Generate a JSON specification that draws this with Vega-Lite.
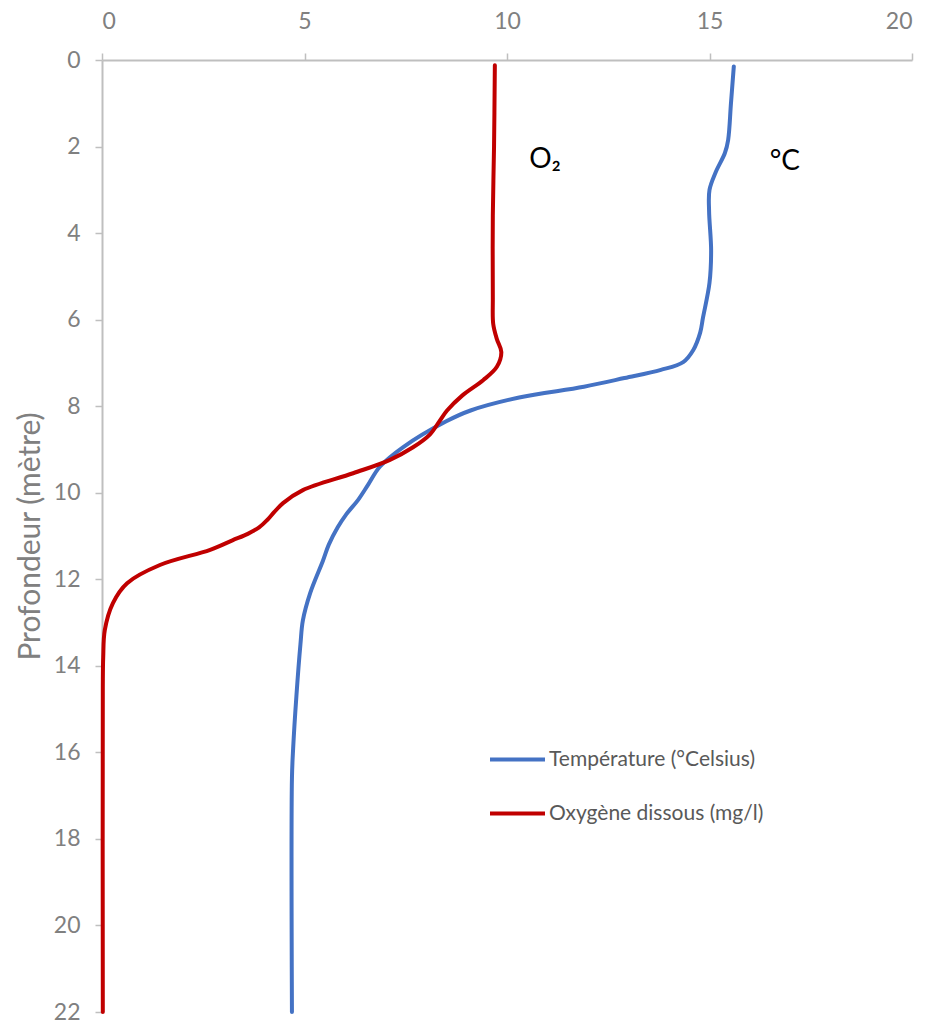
{
  "$schema": "https://vega.github.io/schema/vega-lite/v6.json",
  "width": 810,
  "height": 952,
  "autosize": {"type": "none"},
  "padding": {"left": 102, "top": 60, "right": 20, "bottom": 11},
  "background": "#ffffff",
  "config": {"view": {"stroke": null}, "axis": {"grid": false}},
  "datasets": {
    "profil": [
      {"serie": "Température (°Celsius)", "profondeur": 0.15, "valeur": 15.6},
      {"serie": "Température (°Celsius)", "profondeur": 1.0, "valeur": 15.53},
      {"serie": "Température (°Celsius)", "profondeur": 1.85, "valeur": 15.46},
      {"serie": "Température (°Celsius)", "profondeur": 2.15, "valeur": 15.38},
      {"serie": "Température (°Celsius)", "profondeur": 2.6, "valeur": 15.15},
      {"serie": "Température (°Celsius)", "profondeur": 3.0, "valeur": 15.0},
      {"serie": "Température (°Celsius)", "profondeur": 3.5, "valeur": 14.99},
      {"serie": "Température (°Celsius)", "profondeur": 4.4, "valeur": 15.04},
      {"serie": "Température (°Celsius)", "profondeur": 5.15, "valeur": 15.0},
      {"serie": "Température (°Celsius)", "profondeur": 5.95, "valeur": 14.84},
      {"serie": "Température (°Celsius)", "profondeur": 6.3, "valeur": 14.77},
      {"serie": "Température (°Celsius)", "profondeur": 6.7, "valeur": 14.6},
      {"serie": "Température (°Celsius)", "profondeur": 6.98, "valeur": 14.35},
      {"serie": "Température (°Celsius)", "profondeur": 7.16, "valeur": 13.8},
      {"serie": "Température (°Celsius)", "profondeur": 7.35, "valeur": 12.9},
      {"serie": "Température (°Celsius)", "profondeur": 7.55, "valeur": 11.9},
      {"serie": "Température (°Celsius)", "profondeur": 7.8, "valeur": 10.3},
      {"serie": "Température (°Celsius)", "profondeur": 8.1, "valeur": 9.1},
      {"serie": "Température (°Celsius)", "profondeur": 8.35, "valeur": 8.5},
      {"serie": "Température (°Celsius)", "profondeur": 8.95, "valeur": 7.43},
      {"serie": "Température (°Celsius)", "profondeur": 9.4, "valeur": 6.86},
      {"serie": "Température (°Celsius)", "profondeur": 9.8, "valeur": 6.58},
      {"serie": "Température (°Celsius)", "profondeur": 10.17, "valeur": 6.32},
      {"serie": "Température (°Celsius)", "profondeur": 10.5, "valeur": 6.03},
      {"serie": "Température (°Celsius)", "profondeur": 10.8, "valeur": 5.82},
      {"serie": "Température (°Celsius)", "profondeur": 11.2, "valeur": 5.6},
      {"serie": "Température (°Celsius)", "profondeur": 11.56, "valeur": 5.46},
      {"serie": "Température (°Celsius)", "profondeur": 12.32, "valeur": 5.14},
      {"serie": "Température (°Celsius)", "profondeur": 12.95, "valeur": 4.96},
      {"serie": "Température (°Celsius)", "profondeur": 13.5, "valeur": 4.9},
      {"serie": "Température (°Celsius)", "profondeur": 14.7, "valeur": 4.8},
      {"serie": "Température (°Celsius)", "profondeur": 15.9, "valeur": 4.72},
      {"serie": "Température (°Celsius)", "profondeur": 16.6, "valeur": 4.69},
      {"serie": "Température (°Celsius)", "profondeur": 22.0, "valeur": 4.69},
      {"serie": "Oxygène dissous (mg/l)", "profondeur": 0.12, "valeur": 9.7},
      {"serie": "Oxygène dissous (mg/l)", "profondeur": 2.0, "valeur": 9.68},
      {"serie": "Oxygène dissous (mg/l)", "profondeur": 3.6, "valeur": 9.65},
      {"serie": "Oxygène dissous (mg/l)", "profondeur": 5.5, "valeur": 9.65},
      {"serie": "Oxygène dissous (mg/l)", "profondeur": 6.1, "valeur": 9.66},
      {"serie": "Oxygène dissous (mg/l)", "profondeur": 6.45, "valeur": 9.75},
      {"serie": "Oxygène dissous (mg/l)", "profondeur": 6.75, "valeur": 9.86},
      {"serie": "Oxygène dissous (mg/l)", "profondeur": 7.09, "valeur": 9.75},
      {"serie": "Oxygène dissous (mg/l)", "profondeur": 7.4, "valeur": 9.41},
      {"serie": "Oxygène dissous (mg/l)", "profondeur": 7.75, "valeur": 8.9},
      {"serie": "Oxygène dissous (mg/l)", "profondeur": 8.1, "valeur": 8.52},
      {"serie": "Oxygène dissous (mg/l)", "profondeur": 8.35, "valeur": 8.33},
      {"serie": "Oxygène dissous (mg/l)", "profondeur": 8.65, "valeur": 8.1},
      {"serie": "Oxygène dissous (mg/l)", "profondeur": 8.95, "valeur": 7.68},
      {"serie": "Oxygène dissous (mg/l)", "profondeur": 9.24, "valeur": 7.11},
      {"serie": "Oxygène dissous (mg/l)", "profondeur": 9.55, "valeur": 6.2},
      {"serie": "Oxygène dissous (mg/l)", "profondeur": 9.94, "valeur": 4.96},
      {"serie": "Oxygène dissous (mg/l)", "profondeur": 10.24, "valeur": 4.47},
      {"serie": "Oxygène dissous (mg/l)", "profondeur": 10.45, "valeur": 4.25},
      {"serie": "Oxygène dissous (mg/l)", "profondeur": 10.63, "valeur": 4.08},
      {"serie": "Oxygène dissous (mg/l)", "profondeur": 10.8, "valeur": 3.88},
      {"serie": "Oxygène dissous (mg/l)", "profondeur": 10.95, "valeur": 3.6},
      {"serie": "Oxygène dissous (mg/l)", "profondeur": 11.1, "valeur": 3.22},
      {"serie": "Oxygène dissous (mg/l)", "profondeur": 11.32, "valeur": 2.67},
      {"serie": "Oxygène dissous (mg/l)", "profondeur": 11.67, "valeur": 1.43},
      {"serie": "Oxygène dissous (mg/l)", "profondeur": 12.09, "valeur": 0.62},
      {"serie": "Oxygène dissous (mg/l)", "profondeur": 12.55, "valeur": 0.27},
      {"serie": "Oxygène dissous (mg/l)", "profondeur": 13.17, "valeur": 0.07},
      {"serie": "Oxygène dissous (mg/l)", "profondeur": 13.8, "valeur": 0.03},
      {"serie": "Oxygène dissous (mg/l)", "profondeur": 14.5, "valeur": 0.02},
      {"serie": "Oxygène dissous (mg/l)", "profondeur": 22.0, "valeur": 0.02}
    ],
    "etiquettes": [
      {"texte": "O₂", "profondeur": 2.31, "valeur": 10.94},
      {"texte": "°C", "profondeur": 2.36, "valeur": 16.86}
    ]
  },
  "layer": [
    {
      "data": {"name": "profil"},
      "mark": {"type": "line", "interpolate": "catmull-rom", "strokeWidth": 4, "strokeCap": "round", "strokeJoin": "round"},
      "encoding": {
        "x": {
          "field": "valeur", "type": "quantitative",
          "scale": {"domain": [0, 20], "nice": false, "zero": false},
          "axis": {
            "orient": "top", "title": null, "values": [0, 5, 10, 15, 20],
            "domainColor": "#bfbfbf", "domainWidth": 2,
            "tickColor": "#bfbfbf", "tickWidth": 1.5, "tickSize": 7,
            "labelPadding": 20, "labelFont": "Lato", "labelFontSize": 23,
            "labelColor": "#808080"
          }
        },
        "y": {
          "field": "profondeur", "type": "quantitative",
          "scale": {"domain": [0, 22], "reverse": true, "nice": false, "zero": false},
          "axis": {
            "orient": "left", "title": "Profondeur (mètre)", "values": [0, 2, 4, 6, 8, 10, 12, 14, 16, 18, 20, 22],
            "domainColor": "#bfbfbf", "domainWidth": 2,
            "tickColor": "#bfbfbf", "tickWidth": 1.5, "tickSize": 7,
            "labelPadding": 15, "labelFont": "Lato", "labelFontSize": 23,
            "labelColor": "#808080",
            "titleFont": "Lato", "titleFontSize": 30, "titleFontWeight": "normal",
            "titleColor": "#808080", "titlePadding": 8
          }
        },
        "color": {
          "field": "serie", "type": "nominal",
          "scale": {"domain": ["Température (°Celsius)", "Oxygène dissous (mg/l)"], "range": ["#4472C4", "#C00000"]},
          "legend": {
            "orient": "none", "legendX": 386, "legendY": 670, "title": null,
            "symbolType": "stroke", "symbolSize": 3025, "symbolStrokeWidth": 4,
            "labelFont": "Lato", "labelFontSize": 21, "labelColor": "#595959", "labelLimit": 0,
            "labelOffset": 2, "rowPadding": 14, "padding": 0
          }
        },
        "order": {"field": "profondeur", "type": "quantitative"}
      }
    },
    {
      "data": {"name": "etiquettes"},
      "mark": {"type": "text", "font": "Lato, DejaVu Sans", "fontSize": 28, "color": "#000000", "align": "center", "baseline": "middle"},
      "encoding": {
        "x": {"field": "valeur", "type": "quantitative"},
        "y": {"field": "profondeur", "type": "quantitative"},
        "text": {"field": "texte", "type": "nominal"}
      }
    }
  ]
}
